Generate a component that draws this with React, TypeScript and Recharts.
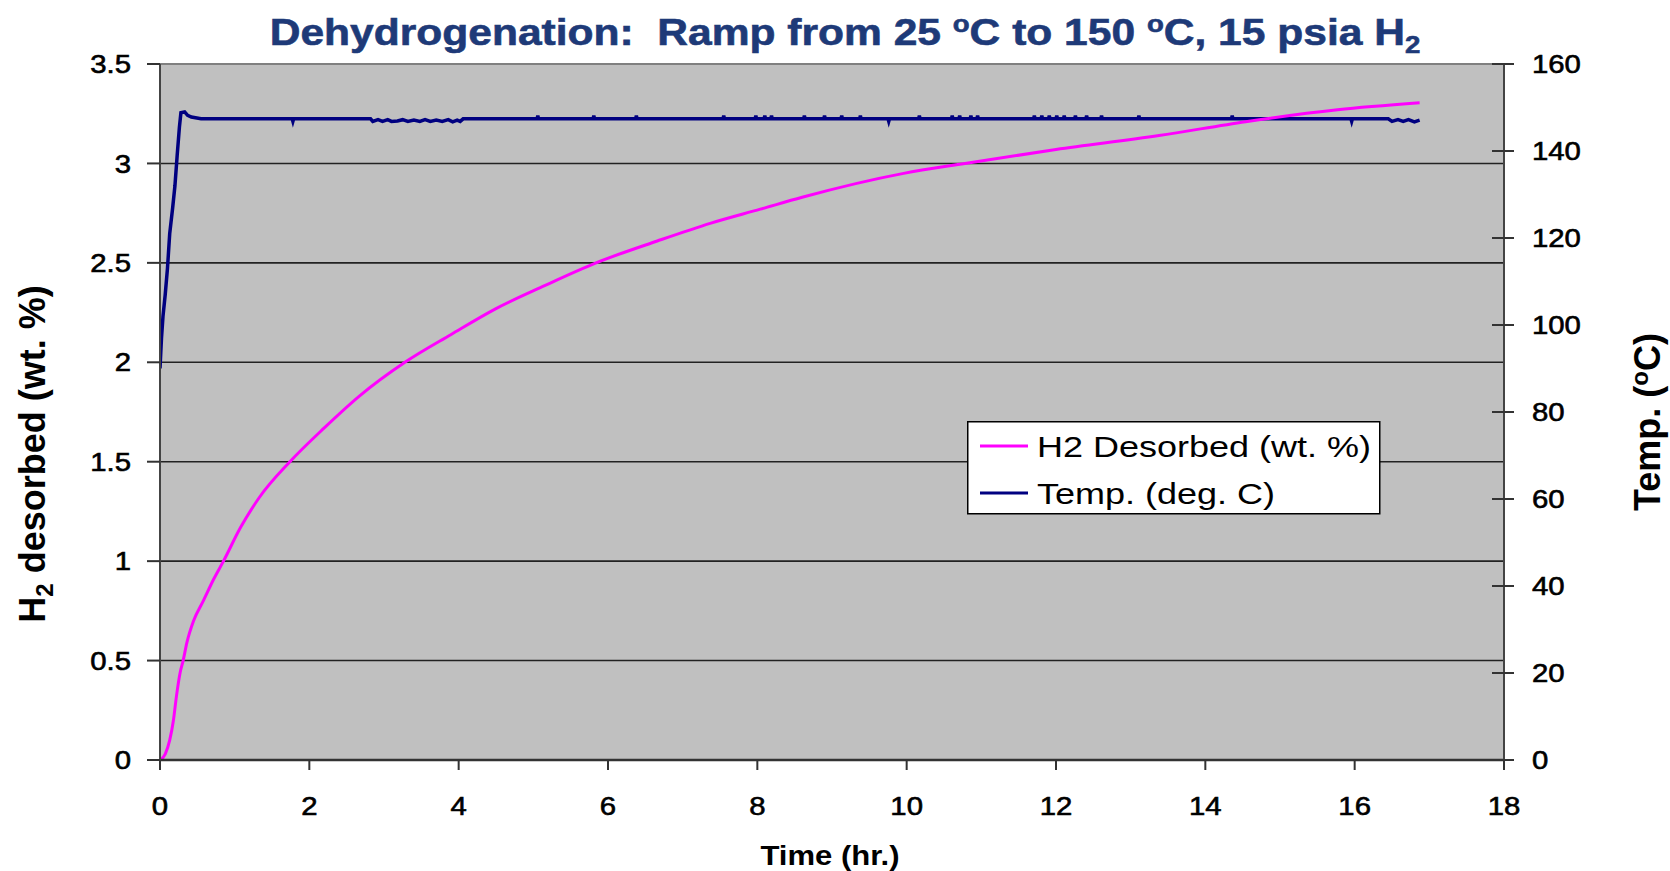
import React from 'react';
import { LineChart, Line, XAxis, YAxis, CartesianGrid, ReferenceLine, Legend } from 'recharts';

const desorbTime = [0, 0.07, 0.13, 0.18, 0.22, 0.27, 0.31, 0.36, 0.45, 0.58, 0.72, 0.85, 1.08, 1.33, 1.74, 2.2, 2.67, 3.28, 3.9, 4.5, 5.12, 5.84, 6.66, 7.38, 8.04, 8.6, 9.96, 10.78, 12.0, 13.38, 14.54, 15.77, 16.87];
const desorbValue = [0, 0.03, 0.1, 0.2, 0.32, 0.44, 0.5, 0.59, 0.7, 0.8, 0.91, 1.0, 1.17, 1.32, 1.5, 1.67, 1.83, 2.0, 2.14, 2.27, 2.38, 2.5, 2.61, 2.7, 2.77, 2.83, 2.95, 3.0, 3.07, 3.14, 3.21, 3.27, 3.305];

const tempTime = [
  0, 0.02, 0.04, 0.07, 0.1, 0.13, 0.17, 0.2, 0.23, 0.26, 0.28, 0.33, 0.37, 0.42, 0.55,
  1.77, 1.78, 1.79, 2.82, 2.85, 2.92, 2.98, 3.05, 3.1, 3.18, 3.25, 3.32, 3.4, 3.48, 3.55, 3.62, 3.7, 3.78, 3.86, 3.92, 3.98, 4.02, 4.06,
  5.05, 5.06, 5.07, 5.8, 5.81, 5.82, 6.37, 6.38, 6.39, 7.54, 7.55, 7.56, 7.97, 7.98, 7.99, 8.09, 8.1, 8.11, 8.18, 8.19, 8.2,
  8.62, 8.63, 8.64, 8.89, 8.9, 8.91, 9.12, 9.13, 9.14, 9.37, 9.38, 9.39, 9.75, 9.76, 9.77, 10.16, 10.17, 10.18,
  10.6, 10.61, 10.62, 10.7, 10.71, 10.72, 10.85, 10.86, 10.87, 10.94, 10.95, 10.96,
  11.7, 11.71, 11.72, 11.8, 11.81, 11.82, 11.9, 11.91, 11.92, 12.0, 12.01, 12.02, 12.1, 12.11, 12.12, 12.25, 12.26, 12.27, 12.4, 12.41, 12.42, 12.6, 12.61, 12.62,
  13.1, 13.11, 13.12, 14.35, 14.36, 14.37, 15.08, 15.09, 15.1, 15.95, 15.96, 15.97, 16.45, 16.5, 16.58, 16.65, 16.72, 16.8, 16.87,
];
const tempValue = [
  90, 97, 102, 107, 113, 121, 127, 132, 139, 145.5, 148.8, 149, 148.2, 147.8, 147.4,
  147.4, 146.8, 147.4, 147.4, 146.8, 147.2, 146.8, 147.2, 146.8, 146.9, 147.2, 146.8, 147.1, 146.8, 147.2, 146.8, 147.1, 146.8, 147.2, 146.7, 147.1, 146.8, 147.4,
  147.4, 148.1, 147.4, 147.4, 148.1, 147.4, 147.4, 148.1, 147.4, 147.4, 148.1, 147.4, 147.4, 148.1, 147.4, 147.4, 148.1, 147.4, 147.4, 148.1, 147.4,
  147.4, 148.1, 147.4, 147.4, 148.1, 147.4, 147.4, 148.1, 147.4, 147.4, 148.1, 147.4, 147.4, 146.8, 147.4, 147.4, 148.1, 147.4,
  147.4, 148.1, 147.4, 147.4, 148.1, 147.4, 147.4, 148.1, 147.4, 147.4, 148.1, 147.4,
  147.4, 148.1, 147.4, 147.4, 148.1, 147.4, 147.4, 148.1, 147.4, 147.4, 148.1, 147.4, 147.4, 148.1, 147.4, 147.4, 148.1, 147.4, 147.4, 148.1, 147.4, 147.4, 148.1, 147.4,
  147.4, 148.1, 147.4, 147.4, 148.1, 147.4, 147.4, 148.1, 147.4, 147.4, 146.8, 147.4, 147.4, 146.8, 147.2, 146.8, 147.2, 146.7, 147.1,
];

const xTicks = [0, 2, 4, 6, 8, 10, 12, 14, 16, 18];
const leftTicks = [0, 0.5, 1, 1.5, 2, 2.5, 3, 3.5];
const rightTicks = [0, 20, 40, 60, 80, 100, 120, 140, 160];
const seriesNames = ['H2 Desorbed (wt. %)', 'Temp. (deg. C)'];
const seriesColors = ['#ff00ff', '#000080'];

const desorbData = desorbTime.map((t, i) => ({ t, v: desorbValue[i] }));
const tempData = tempTime.map((t, i) => ({ t, T: tempValue[i] }));

const FONT = '"Liberation Sans", Arial, sans-serif';
const SX = 1.15;
const TICK_FS = 25.5;

const tickTextProps = {
  fontFamily: FONT,
  fontSize: TICK_FS,
  fill: '#000',
  stroke: '#000',
  strokeWidth: 0.6,
};

const XTick = (props: any) => {
  const { x, y, payload } = props;
  return (
    <text transform={`translate(${x},${y}) scale(${SX},1)`} textAnchor="middle" dy="0.71em" {...tickTextProps}>
      {String(payload.value)}
    </text>
  );
};

const LTick = (props: any) => {
  const { x, y, payload } = props;
  return (
    <text transform={`translate(${x},${y}) scale(${SX},1)`} textAnchor="end" dy="0.36em" {...tickTextProps}>
      {String(payload.value)}
    </text>
  );
};

const RTick = (props: any) => {
  const { x, y, payload } = props;
  const ax = x - 18 - 10;
  return (
    <g>
      <line x1={ax - 12} x2={ax} y1={y} y2={y} stroke="#333" strokeWidth={2} />
      <text transform={`translate(${x},${y}) scale(${SX},1)`} textAnchor="start" dy="0.36em" {...tickTextProps}>
        {String(payload.value)}
      </text>
    </g>
  );
};

const LegendBox = () => (
  <svg width={414} height={94} style={{ display: 'block' }}>
    <rect x={0.75} y={0.75} width={412} height={92} fill="#fff" stroke="#000" strokeWidth={1.5} />
    {seriesNames.map((name, i) => (
      <g key={name}>
        <line x1={13} x2={61} y1={25 + i * 47} y2={25 + i * 47} stroke={seriesColors[i]} strokeWidth={3} />
        <text transform={`translate(70,${36 + i * 47}) scale(1.2,1)`} fontFamily={FONT} fontSize={30} fill="#000">
          {name}
        </text>
      </g>
    ))}
  </svg>
);

export default function App() {
  return (
    <div style={{ position: 'fixed', left: 0, top: 0, width: 1670, height: 871, background: '#fff' }}>
      <LineChart width={1670} height={871} margin={{ top: 64, right: 0, bottom: 0, left: 0 }}>
        <CartesianGrid yAxisId="left" vertical={false} fill="#c0c0c0" stroke="#222" strokeWidth={1.6} />
        <XAxis
          type="number"
          dataKey="t"
          domain={[0, 18]}
          ticks={xTicks}
          interval={0}
          allowDataOverflow
          height={111}
          tickSize={10}
          tickMargin={27}
          tick={XTick}
          axisLine={{ stroke: '#333', strokeWidth: 2.5 }}
          tickLine={{ stroke: '#333', strokeWidth: 2 }}
        />
        <YAxis
          yAxisId="left"
          orientation="left"
          domain={[0, 3.5]}
          ticks={leftTicks}
          interval={0}
          width={160}
          tickSize={13}
          tickMargin={16}
          tick={LTick}
          axisLine={{ stroke: '#444', strokeWidth: 2 }}
          tickLine={{ stroke: '#333', strokeWidth: 2 }}
        />
        <YAxis
          yAxisId="right"
          orientation="right"
          domain={[0, 160]}
          ticks={rightTicks}
          interval={0}
          width={166}
          tickSize={10}
          tickMargin={18}
          tick={RTick}
          axisLine={{ stroke: '#444', strokeWidth: 2 }}
          tickLine={{ stroke: '#333', strokeWidth: 2 }}
        />
        <ReferenceLine yAxisId="left" y={3.5} stroke="#808080" strokeWidth={2} />
        <Legend
          layout="horizontal"
          verticalAlign="middle"
          align="center"
          content={() => <LegendBox />}
          wrapperStyle={{ position: 'absolute', left: 967, top: 421, width: 414, height: 94 }}
        />
        <Line
          yAxisId="right"
          data={tempData}
          dataKey="T"
          type="linear"
          stroke={seriesColors[1]}
          strokeWidth={3.5}
          dot={false}
          isAnimationActive={false}
          name={seriesNames[1]}
        />
        <Line
          yAxisId="left"
          data={desorbData}
          dataKey="v"
          type="monotone"
          stroke={seriesColors[0]}
          strokeWidth={3}
          dot={false}
          isAnimationActive={false}
          name={seriesNames[0]}
        />
      </LineChart>
      <svg width={1670} height={871} style={{ position: 'absolute', left: 0, top: 0, pointerEvents: 'none' }}>
        <text
          transform={`translate(845,45) scale(${SX},1)`}
          textAnchor="middle"
          fontFamily={FONT}
          fontWeight="bold"
          fontSize={37}
          fill="#1e3a78"
          stroke="#1e3a78"
          strokeWidth={0.6}
          style={{ whiteSpace: 'pre' }}
        >
          {'Dehydrogenation:  Ramp from 25 '}
          <tspan fontSize={24} dy={-13}>o</tspan>
          <tspan dy={13}>{'C to 150 '}</tspan>
          <tspan fontSize={24} dy={-13}>o</tspan>
          <tspan dy={13}>{'C, 15 psia H'}</tspan>
          <tspan fontSize={24} dy={8}>2</tspan>
        </text>
        <text transform="translate(45,454) rotate(-90)" textAnchor="middle" fontFamily={FONT} fontWeight="bold" fontSize={36} fill="#000" style={{ whiteSpace: 'pre' }}>
          H
          <tspan fontSize={24} dy={8}>2</tspan>
          <tspan dy={-8}>{' desorbed (wt. %)'}</tspan>
        </text>
        <text transform="translate(1660,422) rotate(-90)" textAnchor="middle" fontFamily={FONT} fontWeight="bold" fontSize={36} fill="#000" style={{ whiteSpace: 'pre' }}>
          {'Temp. ('}
          <tspan fontSize={24} dy={-12}>o</tspan>
          <tspan dy={12}>{'C)'}</tspan>
        </text>
        <text transform={`translate(830,865) scale(${SX},1)`} textAnchor="middle" fontFamily={FONT} fontWeight="bold" fontSize={27} fill="#000">
          Time (hr.)
        </text>
      </svg>
    </div>
  );
}
